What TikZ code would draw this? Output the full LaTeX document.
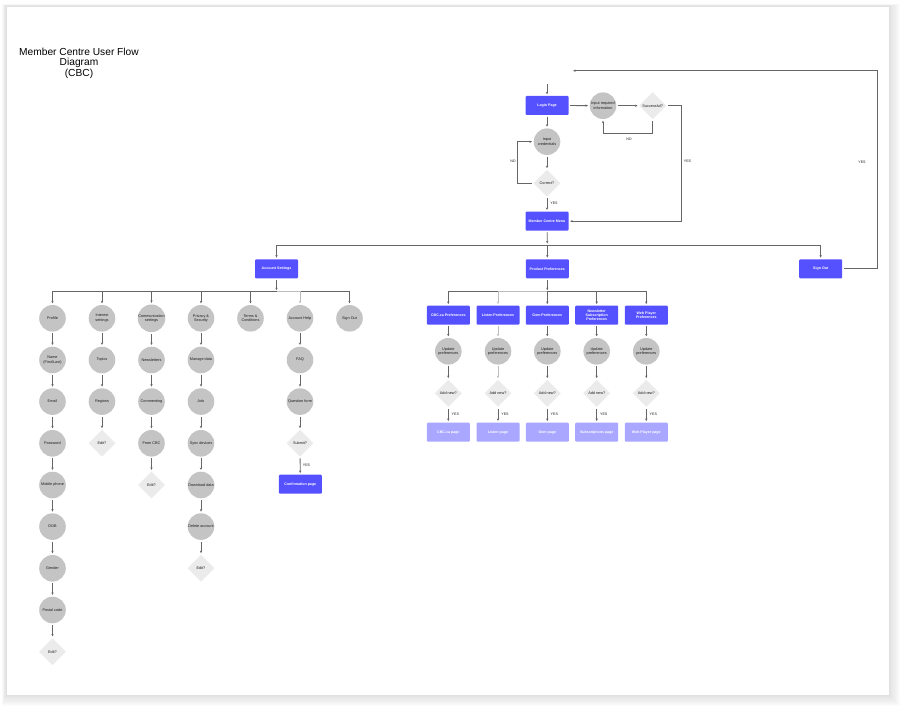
\documentclass[tikz,border=0pt]{standalone}
\usepackage{fontspec}
\setmainfont{Liberation Sans}
\usetikzlibrary{shapes.geometric,arrows.meta}
\definecolor{bluebox}{HTML}{5551FF}
\definecolor{lightbox}{HTML}{A9A7FF}
\definecolor{circC}{HTML}{C4C4C4}
\definecolor{diaC}{HTML}{EBEBEB}
\definecolor{lineC}{HTML}{666666}
\definecolor{lineL}{HTML}{BDBDBD}
\definecolor{txtC}{HTML}{1E1E1E}
\begin{document}
\begin{tikzpicture}[x=1pt,y=-1pt,
  every node/.style={inner sep=0pt, align=center, text=txtC, font=\fontsize{3.8}{4.5}\selectfont},
  bbox/.style={fill=bluebox, rounded corners=1pt, minimum width=43pt, minimum height=19pt, text=white, font=\fontsize{3.6}{4.3}\selectfont\bfseries},
  lbox/.style={fill=lightbox, rounded corners=1pt, minimum width=43pt, minimum height=19pt, text=white, font=\fontsize{3.6}{4.3}\selectfont\bfseries},
  cnode/.style={circle, fill=circC, minimum size=26.6pt},
  dnode/.style={diamond, fill=diaC, minimum width=27pt, minimum height=27pt},
  lbl/.style={font=\fontsize{3.6}{4.3}\selectfont},
  arr/.style={draw=lineC, line width=0.8pt, -{Stealth[length=2.5pt,width=2.3pt]}, shorten >=1.5pt, shorten <=1.5pt},
  barr/.style={draw=lineC, line width=0.8pt, -{Stealth[length=2.5pt,width=2.3pt]}, shorten >=1.5pt},
  light/.style={draw=lineL}
]
\useasboundingbox (0,0) rectangle (905,711);
% page with shadow
\foreach \i in {1,...,10} \fill[black, opacity=0.010] (6-\i*0.4, 6-\i*0.2) rectangle (889+\i*1.1, 695+\i*1.1);
\fill[white] (6,6) rectangle (889,695);
\draw[black!12, line width=0.5pt] (6,6) rectangle (889,695);

% title
\node[font=\fontsize{10.2}{10.6}\selectfont, text=black] (title) at (79,63) {Member Centre User Flow\\Diagram\\(CBC)};

% login area
\node[bbox] (login) at (547,105.5) {Login Page};
\node[cnode] (inreq) at (603,105.7) {Input required\\information};
\node[dnode] (succ) at (652.7,105.7) {Successful?};
\node[cnode] (cred) at (547,141.7) {Input\\credentials};
\node[dnode] (corr) at (547,183.3) {Correct?};
\node[bbox] (menu) at (547,221.2) {Member Centre Menu};
\coordinate (topin) at (547,83);
\draw[arr] (topin) -- (login);
\draw[arr] (login) -- (inreq);
\draw[arr] (inreq) -- (succ);
\draw[arr] (succ.south) -- ++(0,14.5) -| (inreq.south);
\node[lbl] (no1) at (629,139) {NO};
\draw[arr] (succ.east) -- ++(15,0) |- (menu.east);
\node[lbl] (yes1) at (687.5,161) {YES};
\draw[arr] (login) -- (cred);
\draw[arr] (cred) -- (corr);
\draw[arr] (corr.west) -- ++(-15.5,0) |- (cred.west);
\node[lbl] (no2) at (513,161) {NO};
\draw[arr] (corr) -- (menu);
\node[lbl] (yes2) at (554,203) {YES};

% second level
\node[bbox] (acc) at (276.5,268.8) {Account Settings};
\node[bbox] (prod) at (547.3,268.8) {Product Preferences};
\node[bbox] (sout) at (820.7,268.8) {Sign Out};
\coordinate (bus1) at (547.3,245);
\draw[arr] (menu) -- (bus1);
\draw[barr] (bus1) -| (acc.north);
\draw[barr] (bus1) -- (prod.north);
\draw[barr] (bus1) -| (sout.north);
\coordinate (loopend) at (571.7,70.7);
\draw[arr] (sout.east) -- ++(34.6,0) |- (loopend);
\node[lbl] (yes3) at (862,162.7) {YES};

% account settings columns
\coordinate (bus2) at (276.5,291.7);
\draw[arr] (acc) -- (bus2);
% column 1
\node[cnode] (a1) at (52.5,318.3) {Profile};
\node[cnode] (a2) at (52.5,360.0) {Name\\(First/Last)};
\node[cnode] (a3) at (52.5,401.6) {Email};
\node[cnode] (a4) at (52.5,443.3) {Password};
\node[cnode] (a5) at (52.5,485.0) {Mobile phone};
\node[cnode] (a6) at (52.5,526.6) {DOB};
\node[cnode] (a7) at (52.5,568.3) {Gender};
\node[cnode] (a8) at (52.5,610.0) {Postal code};
\node[dnode] (a9) at (52.5,651.7) {Edit?};
% column 2
\node[cnode] (b1) at (102,318.3) {Interest\\settings};
\node[cnode] (b2) at (102,360.0) {Topics};
\node[cnode] (b3) at (102,401.6) {Regions};
\node[dnode] (b4) at (102,443.3) {Edit?};
% column 3
\node[cnode] (c1) at (151.5,318.3) {Communication\\settings};
\node[cnode] (c2) at (151.5,360.0) {Newsletters};
\node[cnode] (c3) at (151.5,401.6) {Commenting};
\node[cnode] (c4) at (151.5,443.3) {From CBC};
\node[dnode] (c5) at (151.5,485.0) {Edit?};
% column 4
\node[cnode] (d1) at (201,318.3) {Privacy \&\\Security};
\node[cnode] (d2) at (201,360.0) {Manage data};
\node[cnode] (d3) at (201,401.6) {Ads};
\node[cnode] (d4) at (201,443.3) {Sync devices};
\node[cnode] (d5) at (201,485.0) {Download data};
\node[cnode] (d6) at (201,526.6) {Delete account};
\node[dnode] (d7) at (201,568.3) {Edit?};
% column 5
\node[cnode] (e1) at (250.5,318.3) {Terms \&\\Conditions};
% column 6
\node[cnode] (f1) at (300,318.3) {Account Help};
\node[cnode] (f2) at (300,360.0) {FAQ};
\node[cnode] (f3) at (300,401.6) {Question form};
\node[dnode] (f4) at (300,443.3) {Submit?};
\node[bbox] (f5) at (300.3,484.2) {Confirmation page};
\node[lbl] (yes4) at (306.5,465.3) {YES};
% column 7
\node[cnode] (g1) at (349.5,318.3) {Sign Out};

\foreach \t in {a1,b1,c1,d1,e1,g1} \draw[barr] (bus2) -| (\t.north);
\draw[barr,light] (bus2) -| (f1.north);
\foreach \u/\v in {a1/a2,a2/a3,a3/a4,a4/a5,a5/a6,a6/a7,a7/a8,a8/a9,
                   b1/b2,b2/b3,b3/b4,
                   c1/c2,c2/c3,c3/c4,c4/c5,
                   d1/d2,d2/d3,d3/d4,d4/d5,d5/d6,d6/d7,
                   f1/f2,f2/f3,f3/f4,f4/f5}
  \draw[arr] (\u) -- (\v);

% product preferences columns
\coordinate (bus3) at (547.3,291.7);
\draw[arr] (prod) -- (bus3);
\foreach \x/\n/\a/\b in {448.3/1/{CBC.ca Preferences}/{CBC.ca page},
                         498/2/{Listen Preferences}/{Listen page},
                         547.3/3/{Gem Preferences}/{Gem page},
                         596.7/4/{Newsletter\\Subscription\\Preferences}/{Subscriptions page},
                         646.3/5/{Web Player\\Preferences}/{Web Player page}}{
  \node[bbox] (pb\n) at (\x,315.2) {\a};
  \node[cnode] (pc\n) at (\x,351.3) {Update\\preferences};
  \node[dnode] (pd\n) at (\x,393.3) {Add new?};
  \node[lbox] (pp\n) at (\x,432.2) {\b};
  \node[lbl] (py\n) at (\x+7,414.3) {YES};
}
\foreach \n in {1,3,4,5}{
  \draw[barr] (bus3) -| (pb\n.north);
  \draw[arr] (pb\n) -- (pc\n);
  \draw[arr] (pc\n) -- (pd\n);
  \draw[arr] (pd\n) -- (pp\n);
}
\draw[barr,light] (bus3) -| (pb2.north);
\draw[arr,light] (pb2) -- (pc2);
\draw[arr,light] (pc2) -- (pd2);
\draw[arr] (pd2) -- (pp2);
\end{tikzpicture}
\end{document}
